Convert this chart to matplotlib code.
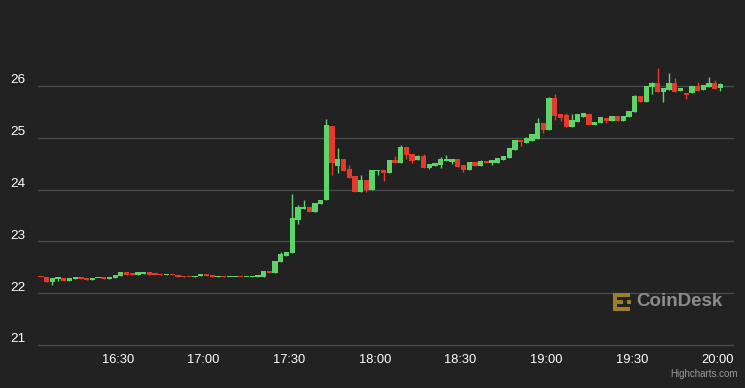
import numpy as np
import matplotlib
matplotlib.use("Agg")
import matplotlib.pyplot as plt
from matplotlib.patches import Rectangle

# 2-minute candles starting 16:03 (minutes after 16:00)
start_min = 3
step_min = 2

opens = [22.34, 22.32, 22.21, 22.28, 22.30, 22.23, 22.28, 22.30, 22.30, 22.25,
         22.29, 22.30, 22.28, 22.30, 22.33, 22.40, 22.38, 22.36, 22.38, 22.40,
         22.38, 22.38, 22.35, 22.38, 22.36, 22.33, 22.32, 22.31, 22.33, 22.37,
         22.35, 22.31, 22.33, 22.31, 22.31, 22.32, 22.31, 22.31, 22.31, 22.32,
         22.42, 22.39, 22.60, 22.72, 22.78, 23.42, 23.63, 23.67, 23.56, 23.72,
         23.79, 25.23, 24.45, 24.59, 24.40, 24.26, 23.95, 24.18, 23.99, 24.36,
         24.38, 24.32, 24.57, 24.51, 24.82, 24.68, 24.57, 24.65, 24.42, 24.46,
         24.48, 24.55, 24.54, 24.59, 24.47, 24.37, 24.53, 24.45, 24.55, 24.51,
         24.51, 24.57, 24.61, 24.76, 24.96, 24.90, 24.94, 24.97, 25.28, 25.15,
         25.77, 25.46, 25.44, 25.20, 25.30, 25.40, 25.46, 25.25, 25.28, 25.38,
         25.32, 25.42, 25.32, 25.40, 25.50, 25.81, 25.69, 25.98, 26.06, 25.88,
         25.92, 26.06, 25.90, 25.86, 25.86, 26.00, 25.92, 25.98, 26.06, 25.96]
closes = [22.31, 22.21, 22.30, 22.30, 22.23, 22.30, 22.30, 22.28, 22.25, 22.30,
          22.30, 22.28, 22.30, 22.35, 22.40, 22.36, 22.36, 22.40, 22.40, 22.36,
          22.36, 22.35, 22.38, 22.35, 22.31, 22.31, 22.31, 22.34, 22.37, 22.33,
          22.31, 22.33, 22.31, 22.32, 22.32, 22.31, 22.32, 22.33, 22.35, 22.42,
          22.39, 22.63, 22.75, 22.79, 23.45, 23.67, 23.67, 23.56, 23.74, 23.80,
          25.25, 24.51, 24.59, 24.36, 24.22, 23.95, 24.18, 23.99, 24.38, 24.38,
          24.32, 24.57, 24.51, 24.82, 24.67, 24.55, 24.65, 24.42, 24.50, 24.51,
          24.59, 24.59, 24.59, 24.44, 24.37, 24.53, 24.45, 24.55, 24.51, 24.57,
          24.61, 24.65, 24.80, 24.96, 24.92, 25.00, 25.07, 25.28, 25.15, 25.77,
          25.42, 25.38, 25.20, 25.34, 25.46, 25.48, 25.25, 25.30, 25.40, 25.32,
          25.42, 25.32, 25.42, 25.52, 25.81, 25.69, 26.00, 26.06, 25.88, 25.96,
          26.06, 25.88, 25.96, 25.82, 26.00, 25.90, 26.02, 26.06, 25.94, 26.04]
highs = [22.34, 22.32, 22.30, 22.30, 22.30, 22.30, 22.30, 22.30, 22.30, 22.30,
         22.30, 22.30, 22.30, 22.35, 22.40, 22.40, 22.38, 22.40, 22.40, 22.40,
         22.38, 22.38, 22.38, 22.38, 22.36, 22.33, 22.32, 22.34, 22.37, 22.37,
         22.35, 22.33, 22.33, 22.32, 22.32, 22.32, 22.32, 22.33, 22.35, 22.42,
         22.42, 22.63, 22.79, 22.79, 23.91, 23.71, 23.79, 23.67, 23.74, 23.80,
         25.37, 25.23, 24.80, 24.59, 24.47, 24.26, 24.28, 24.18, 24.38, 24.38,
         24.38, 24.57, 24.65, 24.86, 24.82, 24.68, 24.67, 24.69, 24.50, 24.51,
         24.63, 24.67, 24.59, 24.59, 24.47, 24.53, 24.53, 24.57, 24.55, 24.57,
         24.61, 24.65, 24.80, 24.96, 24.96, 25.02, 25.07, 25.38, 25.28, 25.79,
         25.84, 25.46, 25.48, 25.46, 25.46, 25.48, 25.46, 25.30, 25.40, 25.38,
         25.42, 25.42, 25.42, 25.52, 25.83, 25.81, 26.00, 26.08, 26.34, 25.96,
         26.26, 26.16, 25.96, 25.86, 26.00, 26.08, 26.02, 26.18, 26.12, 26.06]
lows = [22.31, 22.21, 22.15, 22.23, 22.23, 22.23, 22.28, 22.28, 22.25, 22.25,
        22.29, 22.28, 22.28, 22.30, 22.33, 22.36, 22.36, 22.36, 22.38, 22.36,
        22.36, 22.35, 22.35, 22.35, 22.31, 22.31, 22.31, 22.31, 22.33, 22.33,
        22.31, 22.31, 22.31, 22.31, 22.31, 22.31, 22.31, 22.31, 22.31, 22.32,
        22.39, 22.39, 22.60, 22.72, 22.78, 23.33, 23.63, 23.56, 23.56, 23.72,
        23.79, 24.28, 24.32, 24.36, 24.22, 23.95, 23.95, 23.95, 23.99, 24.28,
        24.16, 24.32, 24.51, 24.51, 24.59, 24.51, 24.57, 24.42, 24.40, 24.46,
        24.42, 24.55, 24.50, 24.44, 24.34, 24.37, 24.45, 24.45, 24.51, 24.47,
        24.51, 24.57, 24.61, 24.76, 24.84, 24.90, 24.94, 24.97, 25.10, 25.15,
        25.34, 25.32, 25.20, 25.20, 25.30, 25.40, 25.25, 25.25, 25.28, 25.28,
        25.32, 25.32, 25.32, 25.40, 25.50, 25.69, 25.69, 25.85, 25.88, 25.69,
        25.92, 25.88, 25.90, 25.75, 25.86, 25.90, 25.92, 25.98, 25.94, 25.90]

y_ticks = [21, 22, 23, 24, 25, 26]
x_ticks = [30, 60, 90, 120, 150, 180, 210, 240]
x_labels = ["16:30", "17:00", "17:30", "18:00", "18:30", "19:00", "19:30", "20:00"]

bg = "#222222"
up = "#5ed36a"
down = "#e5392b"
grid = "#4a4a4a"

W, H = 745, 388
fig = plt.figure(figsize=(W / 100, H / 100), dpi=100, facecolor=bg)
ax = fig.add_axes([38 / W, (H - 345) / H, (733 - 38) / W, 335 / H])
ax.set_facecolor(bg)

t = start_min + step_min * np.arange(len(opens))
o = np.array(opens)
c = np.array(closes)
colors = np.where(c >= o, up, down)

ax.vlines(t, lows, highs, colors=colors, linewidth=1, zorder=2)
body = np.maximum(np.abs(c - o), 0.025)
ax.bar(t, body, bottom=np.minimum(o, c), width=1.85, color=colors,
       linewidth=0, zorder=3)

for v in y_ticks:
    ax.axhline(v, color=grid, linewidth=1, zorder=1, clip_on=False)
    ax.text(-0.018, v + 0.11, str(v), transform=ax.get_yaxis_transform(),
            ha="right", va="center", color="white", fontsize=9.7,
            family="Liberation Sans")

ax.set_xlim(1.98, 245.4)
ax.set_ylim(21, 21 + 335 / 51.8)
ax.set_yticks([])
ax.set_xticks(x_ticks)
ax.set_xticklabels(x_labels, color="white", fontsize=9.3, family="Liberation Sans")
ax.tick_params(axis="x", length=0, pad=6.5)
for s in ax.spines.values():
    s.set_visible(False)

# CoinDesk watermark
gold = "#9a7f2e"
def px_rect(x0, y0, x1, y1):
    fig.add_artist(Rectangle((x0 / W, 1 - y1 / H), (x1 - x0) / W, (y1 - y0) / H,
                             transform=fig.transFigure, color=gold, linewidth=0))
px_rect(613, 293, 617, 311)
px_rect(613, 293, 630, 297)
px_rect(613, 307, 630, 311)
px_rect(617, 300, 623, 304)
px_rect(627, 300, 631, 304)
fig.text(636 / W, 1 - 301 / H, "CoinDesk", color="#8c8c8c", fontsize=13.5,
         fontweight="bold", family="Liberation Sans", ha="left", va="center")
fig.text(738 / W, 1 - 374 / H, "Highcharts.com", color="#9a9a9a", fontsize=7,
         family="Liberation Sans", ha="right", va="center")

fig.savefig("out.png", dpi=100, facecolor=bg)
